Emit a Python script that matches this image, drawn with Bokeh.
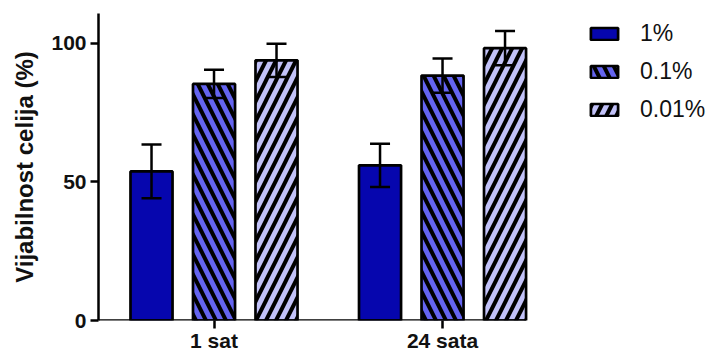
from bokeh.plotting import figure
from bokeh.models import (ColumnDataSource, Whisker, TeeHead, Legend, LegendItem,
                          FixedTicker, Range1d)
from bokeh.embed import file_html
from bokeh.resources import INLINE

# Cell viability (%) after exposure, mean and SD per concentration
groups = ["1 sat", "24 sata"]
concentrations = ["1%", "0.1%", "0.01%"]
mean_1pct = [53.8, 56.0]
mean_01pct = [85.4, 88.4]
mean_001pct = [93.9, 98.3]
sd_1pct = [9.7, 7.8]
sd_01pct = [5.1, 6.2]
sd_001pct = [6.0, 6.2]

y_ticks = [0, 50, 100]

colors = ["#0606ae", "#6464f0", "#c2c2f8"]
hatches = [" ", "left_diagonal_line", "right_diagonal_line"]

group_pos = [1, 2]
offsets = [-0.2735, 0.0, 0.2735]
bar_w = 0.184
x_start = 0.4945

# the frame runs to the right edge so the legend can sit inside it
p = figure(width=711, height=354, output_backend="svg", toolbar_location=None,
           x_range=Range1d(x_start, 3.177), y_range=Range1d(0, 110.8),
           min_border_left=98, min_border_right=0, min_border_top=13,
           min_border_bottom=34)
p.outline_line_color = None
p.grid.visible = False

means = [mean_1pct, mean_01pct, mean_001pct]
sds = [sd_1pct, sd_01pct, sd_001pct]
items = []
for k in range(3):
    xs = [g + offsets[k] for g in group_pos]
    src = ColumnDataSource(dict(
        x=xs, top=means[k],
        upper=[m + s for m, s in zip(means[k], sds[k])],
        lower=[m - s for m, s in zip(means[k], sds[k])],
    ))
    r = p.vbar(x="x", top="top", width=bar_w, source=src, fill_color=colors[k],
               line_color="black", line_width=2.7,
               hatch_pattern=hatches[k], hatch_color="black",
               hatch_weight=4, hatch_scale=20)
    items.append(LegendItem(label=concentrations[k], renderers=[r]))
    w = Whisker(base="x", upper="upper", lower="lower", source=src,
                line_color="black", line_width=2.5, level="annotation",
                upper_head=TeeHead(size=20, line_width=2.5, line_color="black"),
                lower_head=TeeHead(size=20, line_width=2.5, line_color="black"))
    p.add_layout(w)

# x baseline ends at the right edge of the last bar
x_end_axis = group_pos[-1] + offsets[-1] + bar_w / 2
p.segment(x0=[x_start], y0=[0], x1=[x_end_axis], y1=[0],
          line_color="black", line_width=2.5)

legend = Legend(items=items, location=(489, 197), orientation="vertical",
                glyph_width=34, glyph_height=15, spacing=11, padding=0, margin=0,
                label_standoff=19, label_text_font="Liberation Sans",
                label_text_font_size="23px", label_text_color="#111111",
                border_line_alpha=0, background_fill_alpha=0)
p.add_layout(legend, "center")

for ax in (p.xaxis[0], p.yaxis[0]):
    ax.axis_line_width = 2.5
    ax.major_tick_line_width = 2.5
    ax.major_tick_out = 8
    ax.major_tick_in = 0
    ax.minor_tick_line_color = None
    ax.major_label_text_font = "Liberation Sans"
    ax.major_label_text_font_style = "bold"
    ax.major_label_text_font_size = "21px"
    ax.major_label_text_color = "#111111"

p.xaxis.axis_line_color = None
p.xaxis.ticker = FixedTicker(ticks=group_pos)
p.xaxis.major_label_overrides = {g: name for g, name in zip(group_pos, groups)}
p.xaxis.major_label_standoff = 0

p.yaxis.ticker = FixedTicker(ticks=y_ticks)
p.yaxis.major_label_standoff = 4
p.yaxis.axis_label = "Vijabilnost celija (%)"
p.yaxis.axis_label_text_font = "Liberation Sans"
p.yaxis.axis_label_text_font_style = "bold"
p.yaxis.axis_label_text_font_size = "24px"
p.yaxis.axis_label_text_color = "#111111"
p.yaxis.axis_label_standoff = 10

open("out.html", "w").write(file_html(p, INLINE))
